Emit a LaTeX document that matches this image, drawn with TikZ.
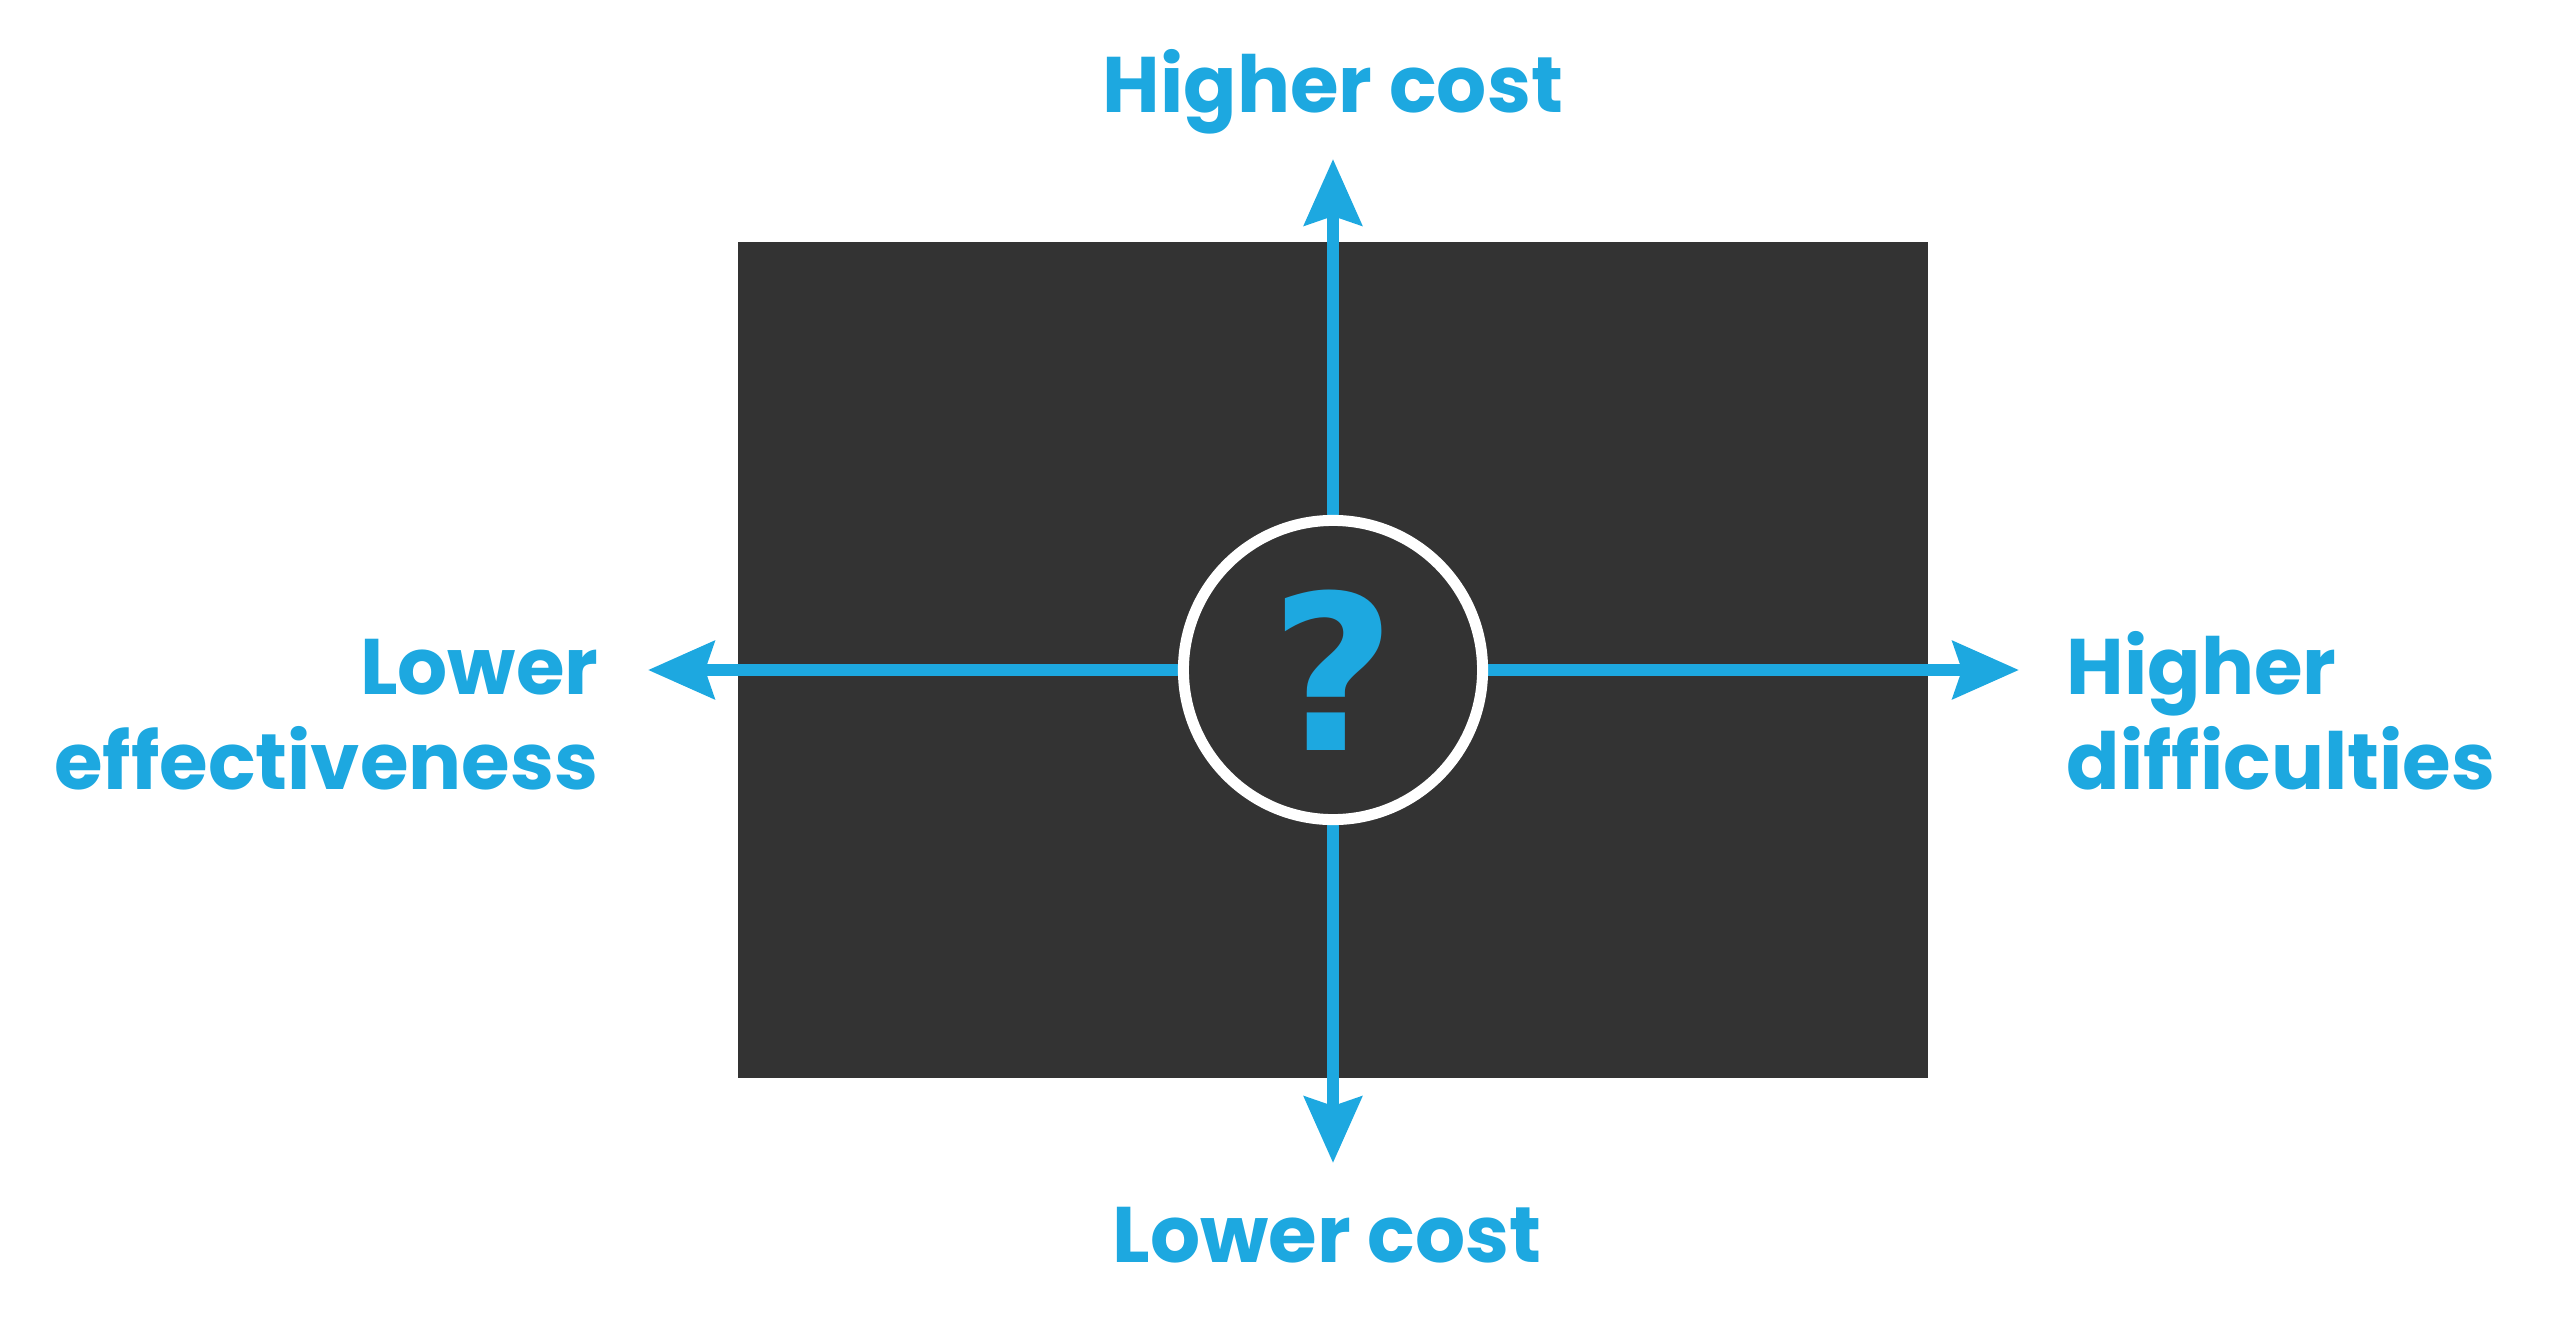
\documentclass[tikz,border=0pt]{standalone}
\usepackage{fontspec}
\setmainfont{Poppins}
\newfontfamily\qmarkfont{DejaVu Sans}
\usetikzlibrary{arrows.meta,backgrounds}
\definecolor{axisblue}{RGB}{29,168,224}
\definecolor{panelgray}{RGB}{51,51,51}
\tikzset{
  axis/.style={draw=axisblue, line width=0.12cm, -{Stealth[length=0.66cm,width=0.57cm,inset=0.09cm]}},
  lbl/.style={text=axisblue, font=\bfseries\fontsize{22.4}{27}\selectfont, inner sep=0pt},
}
\begin{document}
\begin{tikzpicture}[x=0.01cm,y=-0.01cm]
  \useasboundingbox (0,0) rectangle (2560,1318);
  %centre circle
  \node[circle, draw=white, fill=panelgray, line width=0.11cm, minimum size=2.99cm, inner sep=0pt,
        text=axisblue, font=\qmarkfont\bfseries\fontsize{61.5}{62}\selectfont] (q) at (1333,670) {\raisebox{-0.13cm}{?}};
  %arrow tips
  \coordinate (top) at (1333,159);
  \coordinate (bottom) at (1333,1163);
  \coordinate (left) at (648,670);
  \coordinate (right) at (2019,670);
  \begin{scope}[on background layer]
    %dark panel
    \fill[panelgray] (738,242) rectangle (1928,1078);
    %axes
    \draw[axis] (q.north) -- (top);
    \draw[axis] (q.south) -- (bottom);
    \draw[axis] (q.west) -- (left);
    \draw[axis] (q.east) -- (right);
  \end{scope}
  %labels
  \node[lbl, anchor=base] (hicost) at (1333,112) {Higher cost};
  \node[lbl, anchor=base] (locost) at (1327,1262) {Lower cost};
  \node[lbl, anchor=base east, align=right] (loeff) at (599,789) {Lower\\effectiveness};
  \node[lbl, anchor=base west, align=left] (hidiff) at (2066,789) {Higher\\difficulties};
\end{tikzpicture}
\end{document}
